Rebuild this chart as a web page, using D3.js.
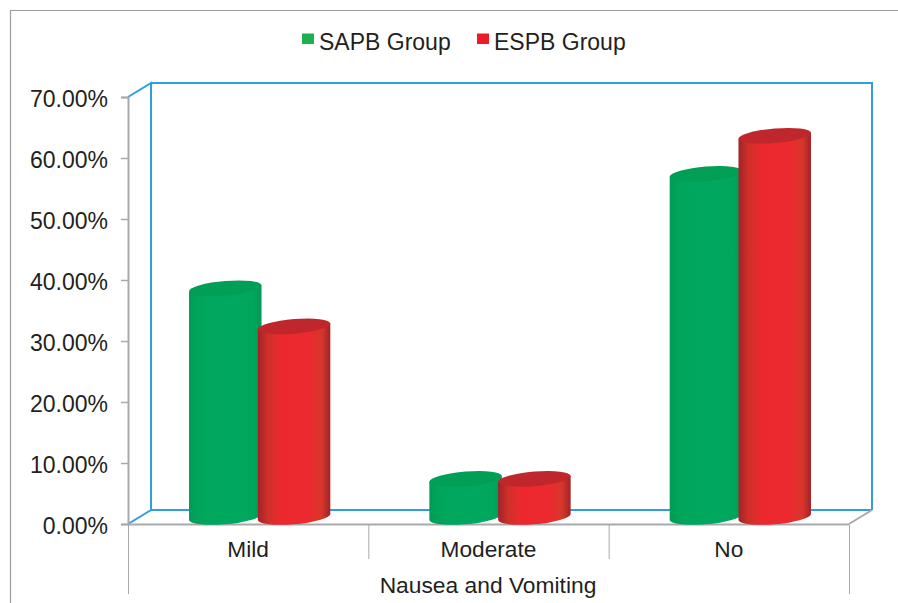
<!DOCTYPE html>
<html>
<head>
<meta charset="utf-8">
<script src="https://cdnjs.cloudflare.com/ajax/libs/d3/7.8.5/d3.min.js"></script>
<style>
html, body { margin: 0; padding: 0; background: #fff; }
svg { display: block; font-family: "Liberation Sans", sans-serif; }
</style>
</head>
<body>
<script>
const categories = ["Mild", "Moderate", "No"];
const seriesNames = ["SAPB Group", "ESPB Group"];
const sapbValues = [37.5, 6.25, 56.25];
const espbValues = [31.25, 6.25, 62.5];
const yTicks = [0, 10, 20, 30, 40, 50, 60, 70];

const width = 898, height = 603;
const depthX = 23, depthY = 14;

const svg = d3.select("body").append("svg")
    .attr("width", width)
    .attr("height", height);

const x = d3.scaleBand().domain(categories).range([128, 849]);
const y = d3.scaleLinear().domain([0, 70]).range([524, 97]);

// 圆柱的水平渐变
const defs = svg.append("defs");
function addGradient(id, stops) {
    const g = defs.append("linearGradient").attr("id", id);
    g.selectAll("stop").data(stops).enter().append("stop")
        .attr("offset", d => d[0])
        .attr("stop-color", d => d[1]);
}
addGradient("greenBody", [[0, "#019a56"], [0.12, "#00a55b"], [0.5, "#00a85f"], [0.88, "#00a65c"], [1, "#019a56"]]);
addGradient("redBody", [[0, "#a32228"], [0.14, "#cf3029"], [0.32, "#ec282e"], [0.72, "#ec2a2e"], [0.88, "#d6372b"], [1, "#a32228"]]);

// 外框:只有左边和上边
svg.append("path")
    .attr("d", "M10.5,603V10.5H898")
    .attr("fill", "none")
    .attr("stroke", "#9a9c9e")
    .attr("stroke-width", 1.2);

// 图例
const legend = svg.selectAll(".legend")
    .data(seriesNames)
    .enter().append("g")
    .attr("class", "legend")
    .attr("transform", (d, i) => `translate(${[302, 477][i]},0)`);

legend.append("rect")
    .attr("y", 33.5)
    .attr("width", 12)
    .attr("height", 10.5)
    .attr("fill", (d, i) => ["#1cb14f", "#ed1c24"][i]);

legend.append("text")
    .attr("x", 17)
    .attr("y", 50)
    .attr("font-size", 23)
    .attr("fill", "#231f20")
    .text(d => d);

// 后墙
svg.append("path")
    .attr("d", `M${x.range()[0]},${y(0)}L${x.range()[0] + depthX},${y(0) - depthY}V${y(70) - depthY}L${x.range()[0]},${y(70)}`
        + `M${x.range()[0] + depthX},${y(70) - depthY}H${x.range()[1] + depthX}V${y(0) - depthY}`
        + `M${x.range()[0] + depthX},${y(0) - depthY}H${x.range()[1] + depthX}`)
    .attr("fill", "none")
    .attr("stroke", "#2f9de0")
    .attr("stroke-width", 2);

// 灰色的右侧底边
svg.append("line")
    .attr("x1", x.range()[1]).attr("y1", y(0))
    .attr("x2", x.range()[1] + depthX).attr("y2", y(0) - depthY)
    .attr("stroke", "#a7a9ac")
    .attr("stroke-width", 2);

// y 轴
const yAxis = svg.append("g")
    .attr("transform", "translate(128,0)")
    .call(d3.axisLeft(y).tickValues(yTicks).tickSize(7).tickPadding(13).tickFormat(d => d.toFixed(2) + "%"));
yAxis.select(".domain").attr("stroke", "#a7a9ac").attr("stroke-width", 2);
yAxis.selectAll(".tick line").attr("stroke", "#a7a9ac").attr("stroke-width", 1.5);
yAxis.selectAll(".tick text")
    .attr("dy", "0.42em")
    .attr("font-size", 23)
    .attr("font-family", "Liberation Sans")
    .attr("fill", "#231f20");

// x 轴
svg.append("line")
    .attr("x1", x.range()[0]).attr("x2", x.range()[1])
    .attr("y1", y(0) + 0.5).attr("y2", y(0) + 0.5)
    .attr("stroke", "#a7a9ac")
    .attr("stroke-width", 2);

const dividers = [x.range()[0], x("Moderate"), x("No"), x.range()[1]];
svg.selectAll(".divider")
    .data(dividers)
    .enter().append("line")
    .attr("class", "divider")
    .attr("x1", d => d + 0.5).attr("x2", d => d + 0.5)
    .attr("y1", y(0) + 1)
    .attr("y2", (d, i) => (i == 0 || i == 3) ? 594 : 559)
    .attr("stroke", "#a7a9ac")
    .attr("stroke-width", 1);

svg.selectAll(".cat")
    .data(categories)
    .enter().append("text")
    .attr("class", "cat")
    .attr("x", d => x(d) + x.bandwidth() / 2)
    .attr("y", 557)
    .attr("text-anchor", "middle")
    .attr("font-size", 22.7)
    .attr("fill", "#231f20")
    .text(d => d);

svg.append("text")
    .attr("x", 488)
    .attr("y", 593)
    .attr("text-anchor", "middle")
    .attr("font-size", 22.8)
    .attr("fill", "#231f20")
    .text("Nausea and Vomiting");

// 圆柱
const barWidth = 72.5, barStep = 68.8;
const ry = 7.3, skew = -4.6;
const baseY = y(0) - 7;

function drawCylinders(values, idx, body, top) {
    const r = barWidth / 2;
    const g = svg.selectAll(".cyl" + idx)
        .data(values)
        .enter().append("g")
        .attr("class", "cyl" + idx)
        .attr("transform", (d, i) => {
            const cx = x(categories[i]) + x.bandwidth() / 2 + depthX / 2 + (idx - 0.5) * barStep;
            return `translate(${cx},${baseY}) skewY(${skew})`;
        });

    g.append("path")
        .attr("d", d => {
            const h = y(d) - y(0);
            return `M${-r},${h}V0A${r},${ry} 0 0 0 ${r},0V${h}Z`;
        })
        .attr("fill", body);

    g.append("ellipse")
        .attr("cy", d => y(d) - y(0))
        .attr("rx", r)
        .attr("ry", ry)
        .attr("fill", top);
}

drawCylinders(sapbValues, 0, "url(#greenBody)", "#019f56");
drawCylinders(espbValues, 1, "url(#redBody)", "#bf272d");
</script>
</body>
</html>
